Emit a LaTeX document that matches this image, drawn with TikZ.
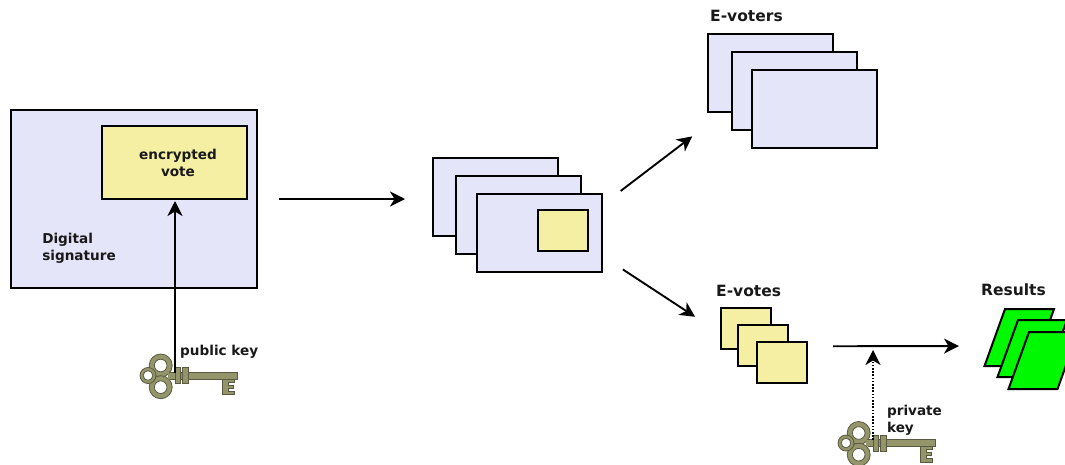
\documentclass[tikz,border=0pt]{standalone}
\usepackage{fontspec}
\setmainfont{DejaVu Sans}
\usetikzlibrary{arrows.meta}
\definecolor{PageBlue}{HTML}{E5E5F9}
\definecolor{VoteYellow}{HTML}{F5EFA3}
\definecolor{ResultGreen}{HTML}{00F800}
\definecolor{KeyFill}{HTML}{95956C}
\definecolor{KeyEdge}{HTML}{5A5A42}
\tikzset{
  BoxStyle/.style={draw=black, line width=2pt, inner sep=0pt, outer sep=0pt},
  PageStyle/.style={BoxStyle, fill=PageBlue, minimum width=125pt, minimum height=78pt},
  VoteStyle/.style={BoxStyle, fill=VoteYellow, minimum width=50pt, minimum height=41pt},
  LabelStyle/.style={font=\fontsize{13.6}{17}\selectfont\bfseries, inner sep=0pt, align=left, text=black!90},
  TitleStyle/.style={font=\fontsize{15.5}{18}\selectfont\bfseries, inner sep=0pt, anchor=west, text=black!90},
  FlowStyle/.style={draw=black, line width=1.9pt, -{Stealth[length=15pt, width=15pt, inset=4.5pt]}},
  keyshape/.pic={
    \begin{scope}[draw=KeyEdge, fill=KeyFill, line width=0.8pt]
    \filldraw (10,-3.5) rectangle (77,3.5);
    \filldraw (15,-8) rectangle (20.5,8);
    \filldraw (22.5,-8) rectangle (28,8);
    \filldraw (62,3.5) -- (62,19) -- (74,19) -- (74,15.5) -- (68,15.5) -- (68,12.5) -- (73,12.5)
      -- (73,9.5) -- (68,9.5) -- (68,6.5) -- (74,6.5) -- (74,3.5) -- cycle;
    \filldraw (0.7,-10) circle (11.5);
    \filldraw (0.7,11.7) circle (11.5);
    \filldraw (-12,0) circle (8);
    \filldraw[fill=white] (0.7,-10) circle (6.3);
    \filldraw[fill=white] (0.7,11.7) circle (6.3);
    \filldraw[fill=white] (-12,0) circle (4.8);
    \fill (8,-3) rectangle (14,3);
    \end{scope}
    \coordinate (-grip) at (15,-3);
  }
}
\begin{document}
\begin{tikzpicture}[x=1pt, y=-1pt]
\clip (0,0) rectangle (1065,464);
\node[BoxStyle, fill=PageBlue, minimum width=246pt, minimum height=178pt] (signed) at (134,199) {};
\node[BoxStyle, fill=VoteYellow, minimum width=145pt, minimum height=73pt] (vote) at (174.5,162.5) {};
\node[LabelStyle, align=center] (voteText) at (178,162.5) {encrypted\\vote};
\node[LabelStyle] (signText) at (79,248.5) {Digital\\signature};

\node[PageStyle] (midA) at (495.5,197) {};
\node[PageStyle] (midB) at (518.5,214.5) {};
\node[PageStyle] (midC) at (539.5,233) {};
\node[VoteStyle] (midVote) at (563,230.5) {};

\node[PageStyle] (voterA) at (770.5,73) {};
\node[PageStyle] (voterB) at (794.5,90.5) {};
\node[PageStyle] (voterC) at (814.5,109) {};
\node[TitleStyle] (voterText) at (710,16) {E-voters};

\node[VoteStyle] (ballotA) at (746,328) {};
\node[VoteStyle] (ballotB) at (763,345.5) {};
\node[VoteStyle] (ballotC) at (782,362.5) {};
\node[TitleStyle] (ballotText) at (716,290.5) {E-votes};

\foreach \x/\y in {1005/309, 1018/320, 1029/332}
  \draw[BoxStyle, fill=ResultGreen, line join=miter] (\x,\y) -- ++(49,0) -- ++(-20.5,57) -- ++(-49,0) -- cycle;
\coordinate (resultIn) at (992,346);
\node[TitleStyle] (resultText) at (981,289.5) {Results};

\draw[FlowStyle, shorten <=22pt, shorten >=28pt] (signed.east) -- (midA.west |- signed.east);
\draw[FlowStyle, shorten <=23.5pt, shorten >=50pt] (midC.24) -- (voterB.194);
\draw[FlowStyle, shorten <=25pt, shorten >=31pt] (midC.340) -- (ballotA.193.5);
\draw[FlowStyle, shorten <=26pt, shorten >=33pt] (ballotC.33) -- (resultIn);

\pic (pubKey) at (160,375.5) {keyshape};
\pic (privKey) at (858,443) {keyshape};
\coordinate (decrypt) at (873,350);
\draw[FlowStyle, shorten >=2pt] (pubKey-grip) -- (pubKey-grip |- vote.south);
\draw[FlowStyle, line width=1.5pt, dash pattern=on 1.6pt off 1.6pt] (privKey-grip) -- (decrypt);
\node[LabelStyle, anchor=west] (pubText) at (180,351.5) {public key};
\node[LabelStyle] (privText) at (914.5,420) {private\\key};
\end{tikzpicture}
\end{document}
